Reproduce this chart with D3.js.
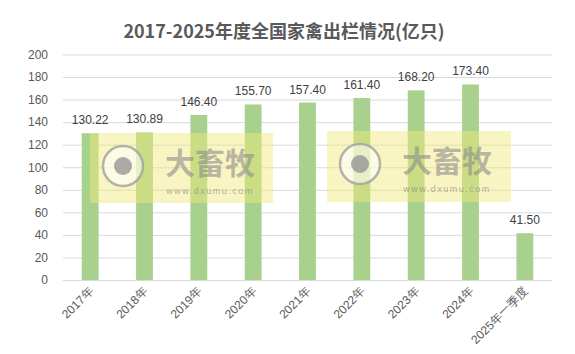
<!DOCTYPE html>
<html lang="zh">
<head>
<meta charset="UTF-8">
<title>2017-2025年度全国家禽出栏情况</title>
<script src="https://cdn.jsdelivr.net/npm/d3@7"></script>
<style>
  body { margin: 0; background: #fff; font-family: "Noto Sans CJK SC", "Liberation Sans", Arial, sans-serif; }
  .grid line { stroke: #d9d9d9; }
  .tick text { fill: #595959; font-size: 12px; }
</style>
</head>
<body>
<svg id="chart" width="575" height="354"></svg>
<script>
// chart data
const categories = ["2017年", "2018年", "2019年", "2020年", "2021年", "2022年", "2023年", "2024年", "2025年一季度"];
const values = [130.22, 130.89, 146.40, 155.70, 157.40, 161.40, 168.20, 173.40, 41.50];
const yTicks = [0, 20, 40, 60, 80, 100, 120, 140, 160, 180, 200];

const svg = d3.select("#chart");
const plotLeft = 63, plotRight = 552, plotTop = 54.5, plotBottom = 280;

const x = d3.scaleBand().domain(categories).range([plotLeft, plotRight]).paddingInner(0.69).paddingOuter(0.345);
const y = d3.scaleLinear().domain([0, 200]).range([plotBottom, plotTop]);

// title
svg.append("text")
  .attr("x", 284).attr("y", 38)
  .attr("text-anchor", "middle")
  .attr("font-size", 18).attr("font-weight", "bold")
  .attr("fill", "#595959")
  .text("2017-2025年度全国家禽出栏情况(亿只)");

// gridlines + y labels
const yAxis = svg.append("g").attr("class", "grid").attr("transform", `translate(${plotLeft},0)`)
  .call(d3.axisLeft(y).tickValues(yTicks).tickSize(-(plotRight - plotLeft)).tickPadding(15));
yAxis.select(".domain").remove();
yAxis.selectAll(".tick text").attr("font-family", "Liberation Sans, Arial, sans-serif");

// bars
svg.append("g").selectAll("rect").data(values).join("rect")
  .attr("x", (d, i) => x(categories[i]))
  .attr("width", x.bandwidth())
  .attr("y", d => y(d))
  .attr("height", d => y(0) - y(d))
  .attr("fill", "#a9d18e");

// value labels
svg.append("g").selectAll("text").data(values).join("text")
  .attr("x", (d, i) => x(categories[i]) + x.bandwidth() / 2)
  .attr("y", d => y(d) - 9)
  .attr("text-anchor", "middle")
  .attr("font-size", 12)
  .attr("font-family", "Liberation Sans, Arial, sans-serif")
  .attr("fill", "#404040")
  .text(d => d.toFixed(2));

// x axis
const xAxis = svg.append("g").attr("transform", `translate(0,${plotBottom})`)
  .call(d3.axisBottom(x).tickSize(0).tickPadding(0));
xAxis.select(".domain").attr("stroke", "#d9d9d9").attr("d", `M${plotLeft},0.5H${plotRight}`);
xAxis.selectAll(".tick text")
  .attr("text-anchor", "end")
  .attr("dy", 0)
  .attr("transform", "translate(4,12) rotate(-45)")
  .attr("font-size", 12);

// watermark overlays
const marks = [[90, 133, 183, 70], [327, 131, 184, 71]];
const wm = svg.append("g").selectAll("g").data(marks).join("g")
  .attr("transform", d => `translate(${d[0]},${d[1]})`);
wm.append("rect")
  .attr("width", d => d[2]).attr("height", d => d[3])
  .attr("fill", "rgba(242,232,120,0.45)");
wm.append("circle").attr("cx", 33).attr("cy", 33).attr("r", 20)
  .attr("fill", "rgba(255,255,255,0.55)").attr("stroke", "rgba(160,160,160,0.8)").attr("stroke-width", 2.5);
wm.append("circle").attr("cx", 33).attr("cy", 33).attr("r", 9)
  .attr("fill", "rgba(150,150,150,0.8)");
wm.append("text").attr("x", 120).attr("y", 41)
  .attr("text-anchor", "middle").attr("font-size", 30).attr("font-weight", "bold")
  .attr("fill", "rgba(140,140,140,0.6)").text("大畜牧");
wm.append("text").attr("x", 120).attr("y", 61)
  .attr("text-anchor", "middle").attr("font-size", 9).attr("letter-spacing", 1.5)
  .attr("font-family", "Liberation Sans, Arial, sans-serif")
  .attr("fill", "rgba(140,140,140,0.7)").text("www.dxumu.com");
</script>
</body>
</html>
